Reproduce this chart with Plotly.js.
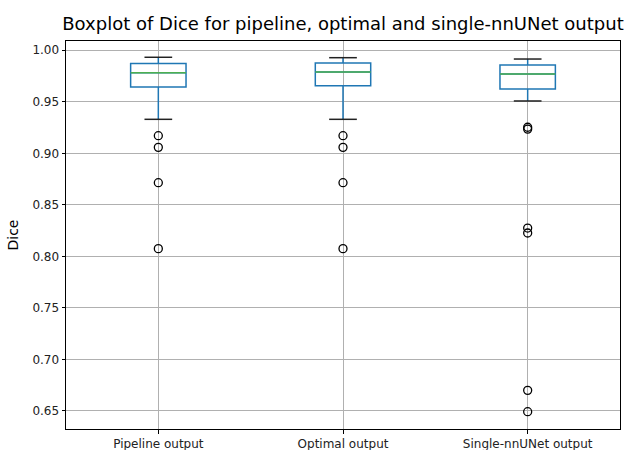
<!DOCTYPE html>
<html>
<head>
<meta charset="utf-8">
<script src="https://cdn.plot.ly/plotly-3.0.1.min.js"></script>
<style>html,body{margin:0;padding:0;background:#fff;}#chart{width:624px;height:450px;}</style>
</head>
<body>
<div id="chart"></div>
<script>
const categories = ["Pipeline output", "Optimal output", "Single-nnUNet output"];
const upperWhisker = [0.9932, 0.9928, 0.9915];
const q3Values = [0.9871, 0.9877, 0.9857];
const medians = [0.9783, 0.9790, 0.9770];
const q1Values = [0.9644, 0.9656, 0.9624];
const lowerWhisker = [0.9330, 0.9330, 0.9508];
const outliers = [
  [0.9171, 0.9058, 0.8715, 0.8075],
  [0.9171, 0.9058, 0.8715, 0.8075],
  [0.9253, 0.9235, 0.8275, 0.8227, 0.6700, 0.6493]
];

const pos = categories.map((c, i) => i + 1);
const boxHalf = 0.15, capHalf = 0.075;
const traces = [];

traces.push({
  type: 'box',
  x: pos,
  q1: q1Values, median: medians, q3: q3Values,
  lowerfence: lowerWhisker, upperfence: upperWhisker,
  width: 2 * boxHalf,
  whiskerwidth: 0,
  fillcolor: 'rgba(0,0,0,0)',
  line: {color: '#1f77b4', width: 1.5},
  boxpoints: false,
  hoverinfo: 'skip',
  showlegend: false
});

// caps and medians
const capX = [], capY = [], medX = [], medY = [];
pos.forEach((p, i) => {
  capX.push(p - capHalf, p + capHalf, null, p - capHalf, p + capHalf, null);
  capY.push(upperWhisker[i], upperWhisker[i], null, lowerWhisker[i], lowerWhisker[i], null);
  medX.push(p - boxHalf, p + boxHalf, null);
  medY.push(medians[i], medians[i], null);
});
traces.push({type: 'scatter', mode: 'lines', x: capX, y: capY, line: {color: '#222', width: 1.5}, showlegend: false, hoverinfo: 'skip'});
traces.push({type: 'scatter', mode: 'lines', x: medX, y: medY, line: {color: '#4caf50', width: 1.5}, showlegend: false, hoverinfo: 'skip'});

// outliers
const oX = [], oY = [];
outliers.forEach((arr, i) => arr.forEach(v => { oX.push(pos[i]); oY.push(v); }));
traces.push({type: 'scatter', mode: 'markers', x: oX, y: oY,
  marker: {symbol: 'circle-open', size: 8, color: '#000', line: {width: 1.3, color: '#000'}},
  showlegend: false, hoverinfo: 'skip'});

const layout = {
  width: 624, height: 450,
  margin: {l: 66, r: 4, t: 41, b: 21},
  paper_bgcolor: '#fff', plot_bgcolor: '#fff',
  font: {family: 'DejaVu Sans', color: '#222'},
  title: {text: 'Boxplot of Dice for pipeline, optimal and single-nnUNet output',
    font: {size: 18, color: '#000'}, xref: 'paper', x: 0.5, xanchor: 'center',
    yref: 'container', y: 1 - 24/450, yanchor: 'middle'},
  xaxis: {
    range: [0.5, 3.5], tickvals: pos, ticktext: categories,
    showgrid: true, gridcolor: '#b0b0b0', gridwidth: 1,
    showline: true, linecolor: '#000', linewidth: 1, mirror: true,
    ticks: 'outside', ticklen: 3.5, tickcolor: '#000',
    tickfont: {size: 12, color: '#222'}, zeroline: false
  },
  yaxis: {
    range: [0.6325, 1.009], tickvals: [0.65, 0.70, 0.75, 0.80, 0.85, 0.90, 0.95, 1.00],
    tickformat: '.2f',
    showgrid: true, gridcolor: '#b0b0b0', gridwidth: 1,
    showline: true, linecolor: '#000', linewidth: 1, mirror: true,
    ticks: 'outside', ticklen: 3.5, tickcolor: '#000',
    tickfont: {size: 12, color: '#222'}, zeroline: false,
    title: {text: 'Dice', font: {size: 14, color: '#000'}, standoff: 10}
  },
  showlegend: false
};

Plotly.newPlot('chart', traces, layout, {displayModeBar: false, staticPlot: true});
</script>
</body>
</html>
